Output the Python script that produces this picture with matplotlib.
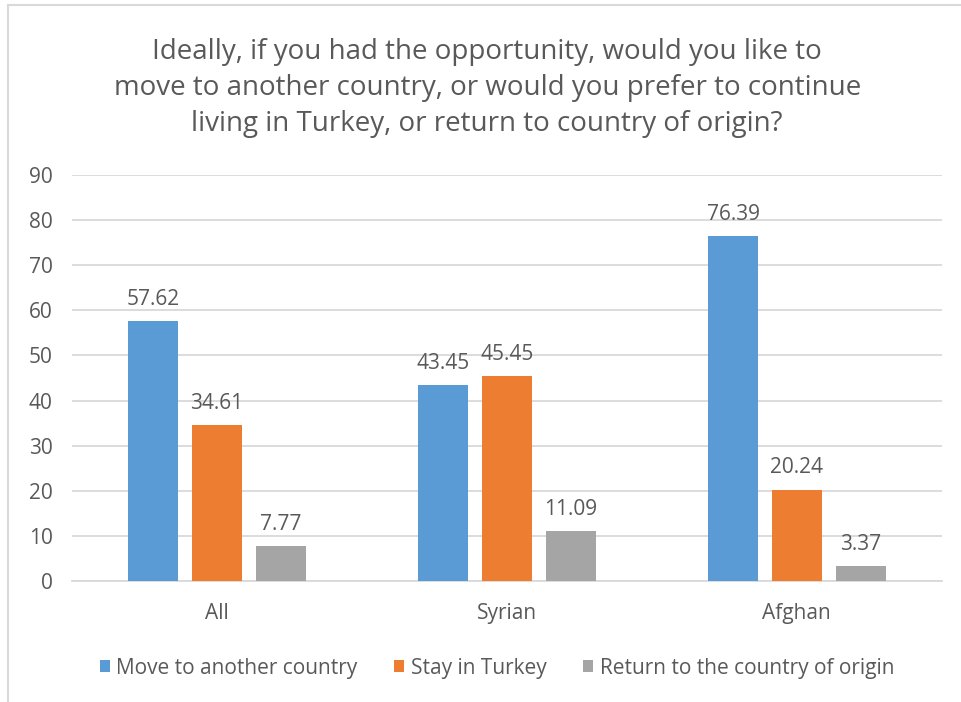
import numpy as np
import matplotlib.pyplot as plt
from matplotlib.lines import Line2D

# data
groups = ["All", "Syrian", "Afghan"]
series_names = ["Move to another country", "Stay in Turkey", "Return to the country of origin"]
move_abroad = [57.62, 43.45, 76.39]
stay_turkey = [34.61, 45.45, 20.24]
return_home = [7.77, 11.09, 3.37]
y_ticks = [0, 10, 20, 30, 40, 50, 60, 70, 80, 90]

colors = ["#5B9BD5", "#ED7D31", "#A5A5A5"]
text_color = "#595959"

plt.rcParams["font.family"] = ["Open Sans", "DejaVu Sans"]

fig = plt.figure(figsize=(9.61, 7.02), dpi=100)
ax = fig.add_axes([0.0749, 0.1724, 0.9051, 0.5783])

x = np.arange(len(groups))
width = 0.172
offsets = [-0.22, 0.0, 0.22]
for vals, off, col, name in zip([move_abroad, stay_turkey, return_home], offsets, colors, series_names):
    bars = ax.bar(x + off, vals, width, color=col, label=name, zorder=3)
    for b, v in zip(bars, vals):
        ax.text(b.get_x() + b.get_width() / 2, v + 3.6, f"{v:.2f}",
                ha="center", va="baseline", fontsize=15, color=text_color)

ax.set_xlim(-0.5, 2.5)
ax.set_ylim(0, 90)
ax.set_yticks(y_ticks)
ax.set_xticks(x)
ax.set_xticklabels(groups)
ax.tick_params(axis="both", length=0, labelsize=15, colors=text_color)
ax.tick_params(axis="x", pad=16)
ax.tick_params(axis="y", pad=14)
ax.grid(axis="y", color="#D9D9D9", linewidth=1.3, zorder=0)
for s in ["top", "right", "left"]:
    ax.spines[s].set_visible(False)
ax.spines["bottom"].set_color("#D9D9D9")
ax.spines["bottom"].set_linewidth(1.3)

fig.text(0.507, 0.875,
         "Ideally, if you had the opportunity, would you like to\n"
         "move to another country, or would you prefer to continue\n"
         "living in Turkey, or return to country of origin?",
         ha="center", va="center", fontsize=20, color=text_color, linespacing=1.39)

fig.legend(loc="center", bbox_to_anchor=(0.517, 0.048), ncol=3, frameon=False,
           fontsize=15, labelcolor=text_color, handlelength=0.5, handleheight=0.5,
           handletextpad=0.3, columnspacing=1.75)

# outer chart border (left and top edges visible in the reference)
fig.add_artist(Line2D([8 / 961, 8 / 961], [0, 1 - 5 / 702], transform=fig.transFigure,
                      color="#D9D9D9", linewidth=1.5))
fig.add_artist(Line2D([8 / 961, 1], [1 - 5 / 702, 1 - 5 / 702], transform=fig.transFigure,
                      color="#D9D9D9", linewidth=1.5))

fig.savefig("out.png", dpi=100)
